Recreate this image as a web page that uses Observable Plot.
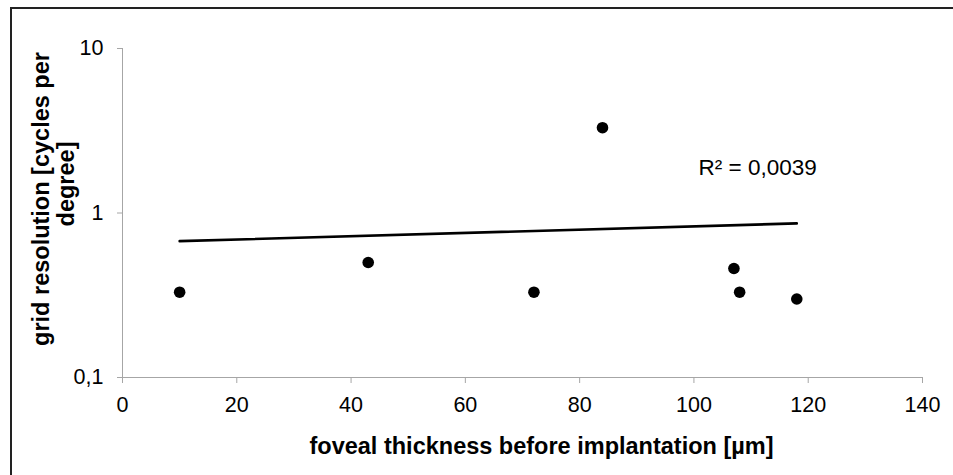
<!DOCTYPE html>
<html><head><meta charset="utf-8">
<script src="https://cdn.jsdelivr.net/npm/d3@7"></script>
<script src="https://cdn.jsdelivr.net/npm/@observablehq/plot@0.6"></script>
<style>
body{margin:0;background:#fff;}
#wrap{position:relative;width:953px;height:475px;overflow:hidden;}
#border{position:absolute;left:10px;top:7px;width:960px;height:480px;border-top:2px solid #222;border-left:2px solid #222;pointer-events:none;}
#wrap svg{position:absolute;left:0;top:0;}
</style></head><body><div id="wrap"></div>
<script>
const thickness = [10, 43, 72, 84, 107, 108, 118];
const resolution = [0.33, 0.5, 0.33, 3.3, 0.46, 0.33, 0.3];
const xTicks = [0, 20, 40, 60, 80, 100, 120, 140];
const yTicks = [0.1, 1, 10];
const xTitle = "foveal thickness before implantation [µm]";
const yTitleLines = ["grid resolution [cycles per", "degree]"];
const r2Label = "R² = 0,0039";

const data = thickness.map((x, i) => ({x, y: resolution[i]}));

// ordinary least-squares linear trend (on linear values, as in the source spreadsheet)
const mx = d3.mean(thickness), my = d3.mean(resolution);
const slope = d3.sum(data, d => (d.x - mx) * (d.y - my)) / d3.sum(data, d => (d.x - mx) ** 2);
const intercept = my - slope * mx;
const trend = d3.extent(thickness).map(x => ({x, y: intercept + slope * x}));

const axisGray = "#a6a6a6";
const font = "Liberation Sans, Arial, sans-serif";

const chart = Plot.plot({
  width: 953,
  height: 475,
  marginLeft: 122,
  marginRight: 31,
  marginTop: 48,
  marginBottom: 98,
  style: {fontFamily: font, fontSize: "21px", color: "#000", background: "transparent"},
  x: {domain: [0, 140], label: null},
  y: {type: "log", domain: [0.1, 10], label: null},
  marks: [
    Plot.ruleX([0], {stroke: axisGray, strokeWidth: 1}),
    Plot.ruleY([0.1], {stroke: axisGray, strokeWidth: 1}),
    Plot.axisX(xTicks, {tickSize: 6, tickPadding: 13, stroke: axisGray, fontSize: 21.5, label: null}),
    Plot.axisY(yTicks, {tickSize: 5, tickPadding: 14, stroke: axisGray, fontSize: 21.5, label: null,
      tickFormat: d => String(d).replace(".", ",")}),
    Plot.line(trend, {x: "x", y: "y", stroke: "#000", strokeWidth: 2.6}),
    Plot.dot(data, {x: "x", y: "y", r: 5.8, fill: "#000", stroke: "none"}),
    Plot.text([r2Label], {frameAnchor: "top-left", dx: 576, dy: 119, textAnchor: "start", lineAnchor: "middle", fontSize: 22.5, fill: "#000"}),
    Plot.text([xTitle], {frameAnchor: "bottom", dx: 19, dy: 69, textAnchor: "middle", lineAnchor: "middle", fontSize: 23.5, fontWeight: "bold", fill: "#000"}),
    Plot.text([yTitleLines[0]], {frameAnchor: "left", dx: -81, dy: -14, rotate: -90, textAnchor: "middle", lineAnchor: "middle", fontSize: 23.5, fontWeight: "bold", fill: "#000"}),
    Plot.text([yTitleLines[1]], {frameAnchor: "left", dx: -56, dy: -29, rotate: -90, textAnchor: "middle", lineAnchor: "middle", fontSize: 23.5, fontWeight: "bold", fill: "#000"})
  ]
});
const wrap = document.getElementById("wrap");
wrap.appendChild(chart);
const b = document.createElement("div");
b.id = "border";
wrap.appendChild(b);
</script>
</body></html>
